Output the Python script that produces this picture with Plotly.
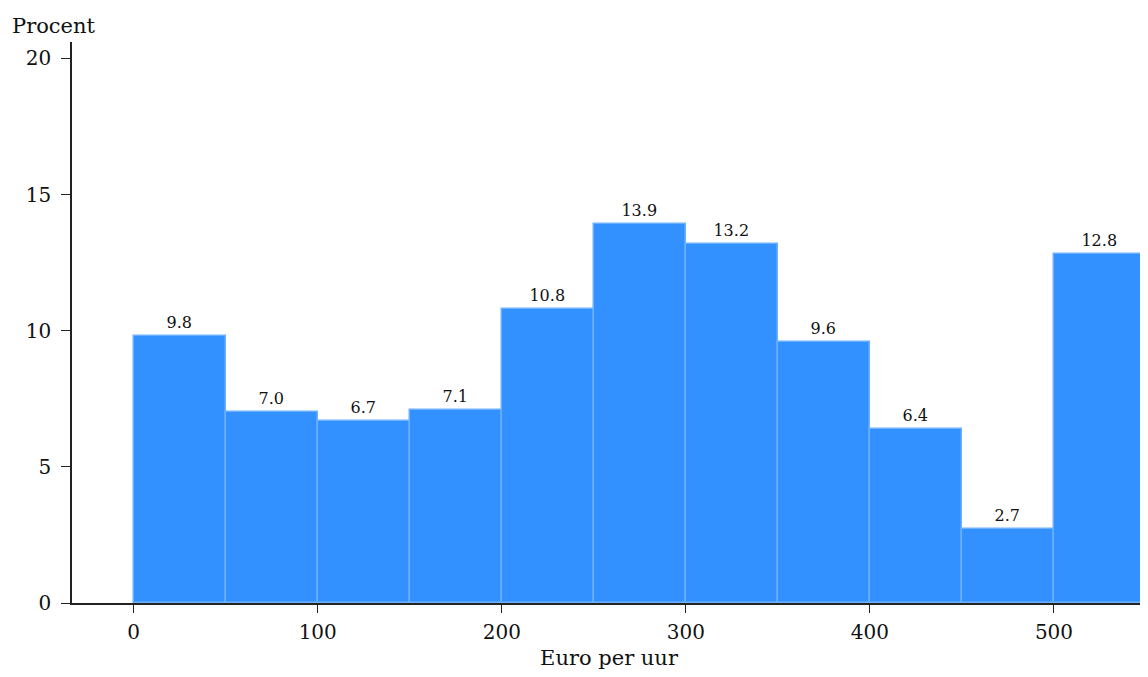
import plotly.graph_objects as go

bin_starts = [0, 50, 100, 150, 200, 250, 300, 350, 400, 450, 500]
bin_width = 50
percent = [9.8, 7.0, 6.7, 7.1, 10.8, 13.9, 13.2, 9.6, 6.4, 2.7, 12.8]
x_ticks = [0, 100, 200, 300, 400, 500]
y_ticks = [0, 5, 10, 15, 20]

FONT = "Georgia, 'DejaVu Serif', serif"

fig = go.Figure(go.Bar(
    x=[s + bin_width / 2 for s in bin_starts],
    y=percent,
    width=[bin_width] * len(bin_starts),
    marker=dict(color="#3390ff", line=dict(color="#6cb0ff", width=1.5)),
    text=[f"{v:.1f}" for v in percent],
    textposition="outside",
    textfont=dict(size=16, color="#111111", family=FONT),
    cliponaxis=False,
    hoverinfo="x+y",
))

fig.update_layout(
    width=1148, height=677,
    margin=dict(l=64, r=10, t=34, b=82),
    plot_bgcolor="white", paper_bgcolor="white",
    font=dict(family=FONT, size=20, color="#111111"),
    showlegend=False,
    bargap=0,
    xaxis=dict(
        range=[-33.5, 550], tickvals=x_ticks, ticks="outside", ticklen=8,
        tickcolor="#222", showline=True, linecolor="#222", linewidth=1.5,
        showgrid=False, zeroline=False, automargin=False,
        title=dict(text="Euro per uur", font=dict(size=21), standoff=8),
        tickfont=dict(size=20), ticklabelstandoff=2,
    ),
    yaxis=dict(
        range=[0, 20.6], tickvals=y_ticks, ticks="outside", ticklen=9,
        tickcolor="#222", showline=True, linecolor="#222", linewidth=1.5,
        showgrid=False, zeroline=False, tickfont=dict(size=20),
        automargin=False, ticklabelstandoff=6,
    ),
    annotations=[dict(
        text="Procent", xref="paper", yref="paper", x=0, y=1.0,
        xshift=-62, yshift=2, xanchor="left", yanchor="bottom", showarrow=False,
        font=dict(size=21, family=FONT),
    )],
)

fig.write_html("out.html")
